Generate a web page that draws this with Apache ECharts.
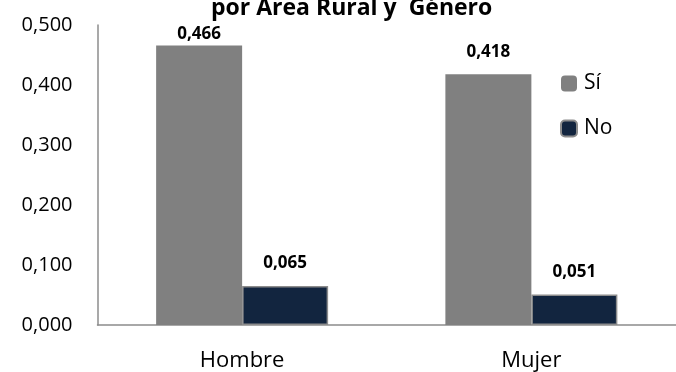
<!DOCTYPE html>
<html><head><meta charset="utf-8">
<script src="https://cdn.jsdelivr.net/npm/echarts@6/dist/echarts.min.js"></script>
<style>html,body{margin:0;padding:0;background:#fff}#c{width:676px;height:372px}</style>
</head><body><div id="c"></div>
<script>
const categories = ['Hombre', 'Mujer'];
const seriesNames = ['Sí', 'No'];
const valuesSi = [0.466, 0.418];
const valuesNo = [0.065, 0.051];
const titleText = 'por Área Rural y  Género';

const font = '"Open Sans", sans-serif';
const fmt = v => v.toFixed(3).replace('.', ',');
const chart = echarts.init(document.getElementById('c'));
const labelBase = {show: true, position: 'top', distance: 14, fontFamily: font, fontWeight: 'bold', fontSize: 17, color: '#000', formatter: p => fmt(p.value)};
chart.setOption({
  animation: false,
  title: {text: titleText, left: 206, top: -8, textStyle: {fontFamily: font, fontWeight: 'bold', fontSize: 23, color: '#000'}},
  grid: {left: 97.5, top: 25, width: 591, height: 300, containLabel: false},
  legend: {orient: 'vertical', left: 555, top: 68, itemWidth: 16, itemHeight: 16, itemGap: 24,
    textStyle: {fontFamily: font, fontSize: 21, color: '#000', padding: [0, 0, 0, 2]}, data: seriesNames},
  xAxis: {type: 'category', data: categories,
    axisLine: {lineStyle: {color: '#8c8c8c', width: 1.5}}, axisTick: {show: false},
    axisLabel: {fontFamily: font, fontSize: 22, color: '#000', margin: 25}},
  yAxis: {type: 'value', min: 0, max: 0.5, interval: 0.1, splitLine: {show: false},
    axisLine: {show: true, lineStyle: {color: '#8c8c8c', width: 1.5}}, axisTick: {show: false},
    axisLabel: {fontFamily: font, fontSize: 20, color: '#000', margin: 25, formatter: v => fmt(v)}},
  series: [
    {name: seriesNames[0], type: 'bar', barWidth: 86, barGap: 0,
      itemStyle: {color: '#808080'}, label: labelBase,
      data: valuesSi.map((v, i) => i === 0 ? {value: v, label: {distance: 3}} : v)},
    {name: seriesNames[1], type: 'bar', barWidth: 86, barGap: 0,
      itemStyle: {color: '#12253f', borderColor: '#8c8c8c', borderWidth: 1.5}, label: labelBase,
      data: valuesNo}
  ]
});
</script></body></html>
